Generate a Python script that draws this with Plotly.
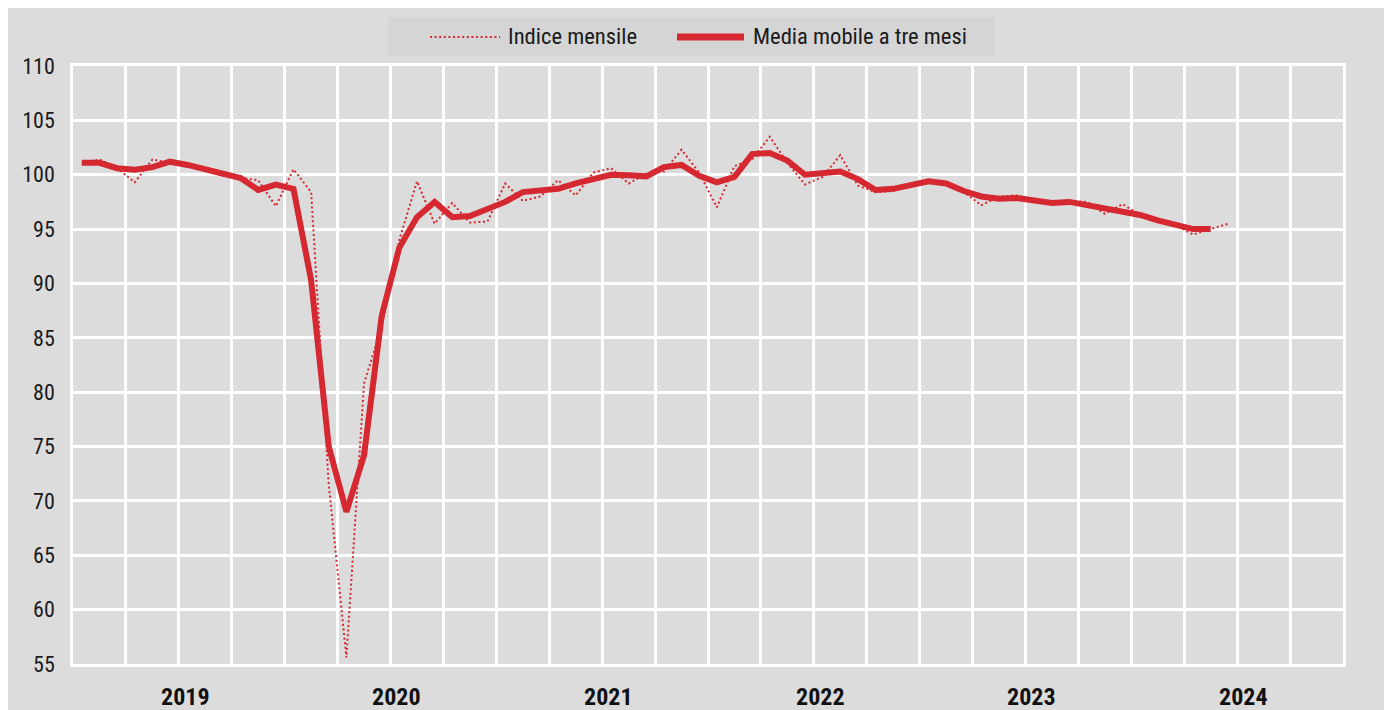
import plotly.graph_objects as go

# ---- data (Jan 2019 = index 0, monthly) ----
years = ["2019", "2020", "2021", "2022", "2023", "2024"]

monthly_index = [
    101.1, 101.4, 100.6, 99.3, 101.4, 101.1, 100.8, 100.4, 99.9, 99.7, 99.5, 97.1,   # 2019
    100.5, 98.4, 71.5, 55.6, 80.8, 86.0, 94.0, 99.4, 95.5, 97.4, 95.6, 95.7,          # 2020
    99.2, 97.6, 98.0, 99.5, 98.1, 100.2, 100.6, 99.2, 100.1, 100.3, 102.3, 100.2,     # 2021
    97.0, 100.8, 101.4, 103.5, 101.1, 99.1, 99.8, 101.8, 99.0, 98.4, 98.5, 99.1,      # 2022
    99.5, 99.3, 98.4, 97.2, 98.0, 98.1, 97.7, 97.4, 97.6, 97.5, 96.4, 97.3,           # 2023
    96.3, 95.8, 95.4, 94.5, 95.0, 95.5,                                               # 2024
]

moving_avg = [
    101.1, 101.1, 100.6, 100.45, 100.7, 101.2, 100.9, 100.5, 100.0, 99.7, 98.6, 99.1,  # 2019
    98.7, 90.3, 75.0, 69.0, 74.2, 87.0, 93.3, 96.1, 97.5, 96.1, 96.2, 96.9,            # 2020
    97.5, 98.4, 98.6, 98.7, 99.2, 99.6, 100.0, 99.95, 99.85, 100.7, 100.9, 99.9,       # 2021
    99.3, 99.8, 101.9, 102.0, 101.3, 100.0, 100.2, 100.3, 99.6, 98.6, 98.7, 99.1,      # 2022
    99.4, 99.2, 98.5, 98.0, 97.8, 97.85, 97.6, 97.4, 97.5, 97.2, 97.0, 96.6,           # 2023
    96.3, 95.8, 95.4, 95.0, 95.0,                                                      # 2024
]

y_ticks = [55, 60, 65, 70, 75, 80, 85, 90, 95, 100, 105, 110]

x_monthly = list(range(len(monthly_index)))
x_ma = list(range(len(moving_avg)))

RED = "#d52830"
GRAY = "#dcdcdc"
TXT = "#1a1a1a"
FONT = "Roboto Condensed, Liberation Sans Narrow, Arial Narrow, sans-serif"
DOT = "2px,2.6px"

fig = go.Figure()
fig.add_trace(go.Scatter(
    x=x_monthly, y=monthly_index, mode="lines", name="Indice mensile",
    line=dict(color=RED, width=2, dash=DOT), showlegend=False,
))
fig.add_trace(go.Scatter(
    x=x_ma, y=moving_avg, mode="lines", name="Media mobile a tre mesi",
    line=dict(color=RED, width=6), showlegend=False,
))

# page offset of the figure (body margin) is 8px
OX, OY = 8, 8
W, H = 1381, 702
L, R, T, B = 73 - OX, 1389 - 1343, 66 - OY, (OY + H) - 664
pw, ph = W - L - R, H - T - B

def px_x(p):
    return (p - OX - L) / pw

def px_y(p):
    return (OY + H - B - p) / ph

# legend drawn as box + sample lines + labels
fig.add_shape(type="rect", xref="paper", yref="paper",
              x0=px_x(388), x1=px_x(995), y0=px_y(56), y1=px_y(17),
              fillcolor="#d5d5d5", line_width=0, layer="below")
fig.add_shape(type="line", xref="paper", yref="paper",
              x0=px_x(430), x1=px_x(500), y0=px_y(37), y1=px_y(37),
              line=dict(color=RED, width=2, dash=DOT))
fig.add_shape(type="line", xref="paper", yref="paper",
              x0=px_x(677), x1=px_x(744), y0=px_y(37), y1=px_y(37),
              line=dict(color=RED, width=7))
for xpos, name in [(506, fig.data[0].name), (751, fig.data[1].name)]:
    fig.add_annotation(x=px_x(xpos), y=px_y(37), xref="paper", yref="paper",
                       xanchor="left", yanchor="middle", showarrow=False,
                       text=name, font=dict(family=FONT, size=22.6, color=TXT))

for k, yr in enumerate(years):
    fig.add_annotation(
        x=12 * k + 5.85, xref="x", y=px_y(697), yref="paper",
        yanchor="middle", showarrow=False, text="<b>%s</b>" % yr,
        font=dict(family=FONT, size=24, color="#111111"),
    )

fig.update_layout(
    width=W, height=H,
    margin=dict(l=L, r=R, t=T, b=B, pad=0, autoexpand=False),
    paper_bgcolor=GRAY, plot_bgcolor=GRAY,
    font=dict(family=FONT, size=23, color=TXT),
    showlegend=False,
    xaxis=dict(
        range=[-0.5, 71.5], tick0=-0.5, dtick=3, showticklabels=False,
        showgrid=True, gridcolor="white", gridwidth=2.5, zeroline=False,
        showline=True, mirror=True, linecolor="white", linewidth=2.5, ticks="",
        automargin=False, domain=[0, 1],
    ),
    yaxis=dict(
        range=[55, 110], tickvals=y_ticks, showgrid=True, gridcolor="white",
        gridwidth=2.5, zeroline=False, showline=True, mirror=True,
        linecolor="white", linewidth=2.5, ticks="", ticklabelstandoff=11,
        tickfont=dict(family=FONT, size=22, color=TXT), automargin=False,
        domain=[0, 1],
    ),
)

fig.write_html("out.html")
